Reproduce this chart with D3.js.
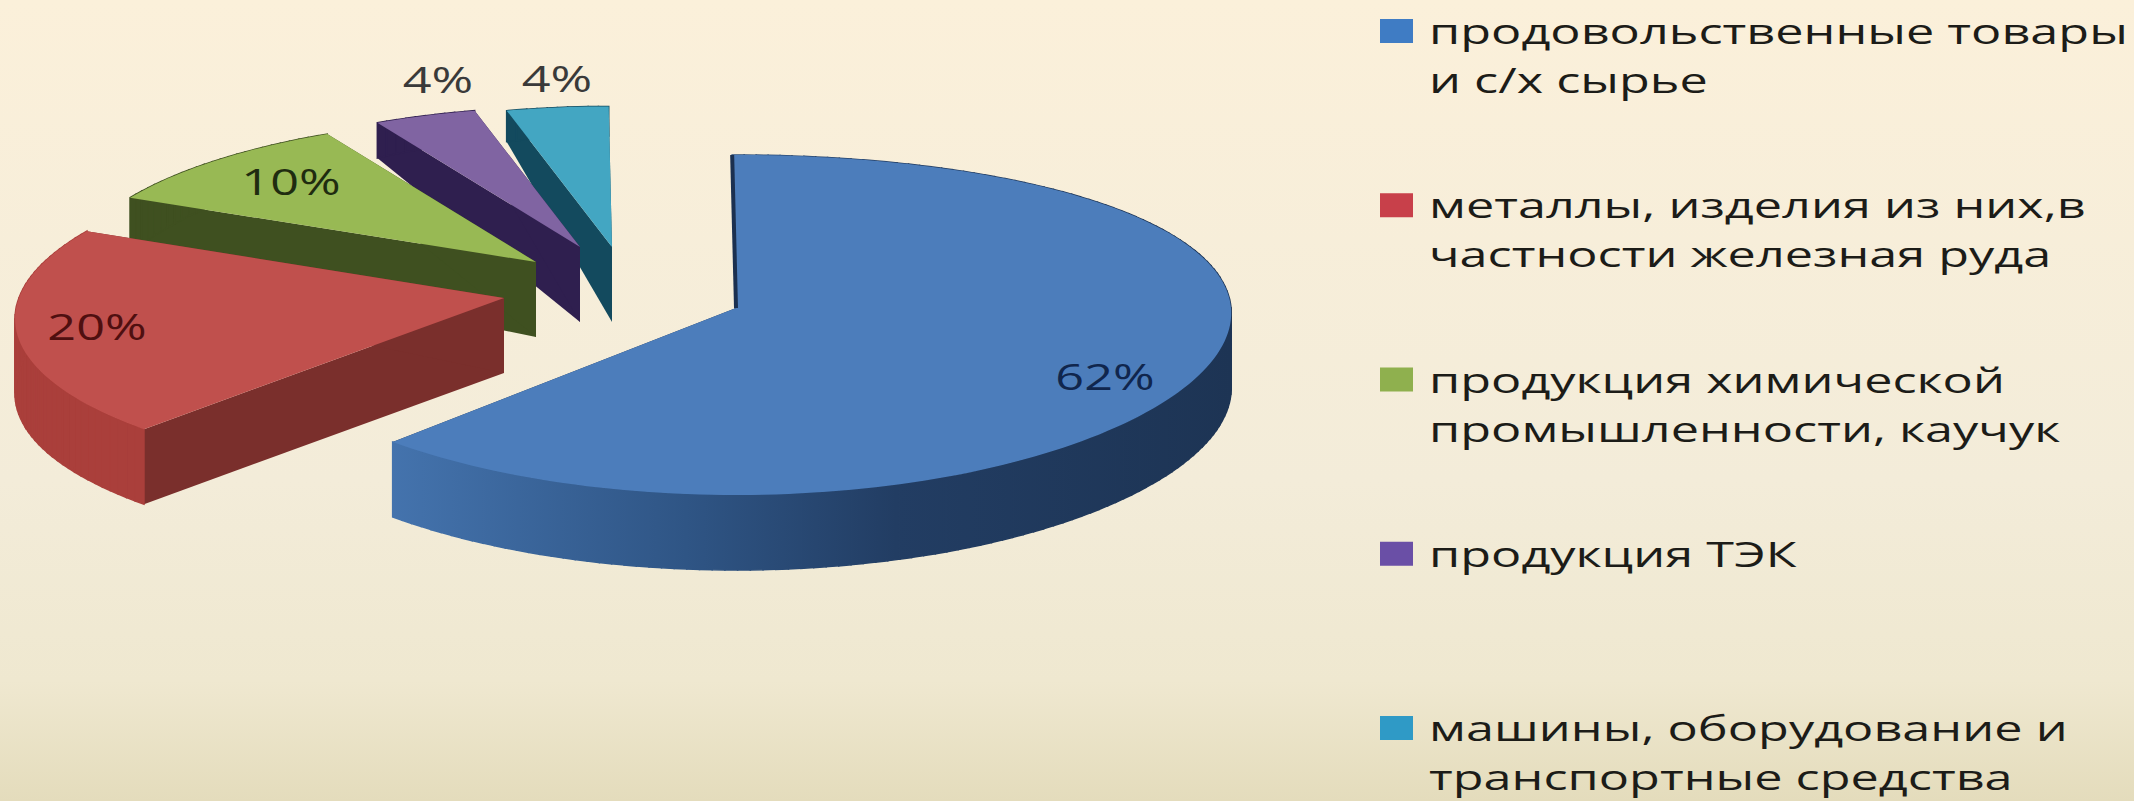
<!DOCTYPE html>
<html>
<head>
<meta charset="utf-8">
<script src="https://cdn.jsdelivr.net/npm/d3@7"></script>
<style>
  html, body { margin: 0; padding: 0; overflow: hidden; }
  text { font-family: "Open Sans", sans-serif; }
</style>
</head>
<body>
<div id="container"></div>
<script>
// Data
const categories = ["food", "metals", "chem", "fuel", "machines"];
const shares = [62, 20, 10, 4, 4];
const shareLabels = ["62%", "20%", "10%", "4%", "4%"];
const legendLines = [
  ["продовольственные товары", "и с/х сырье"],
  ["металлы, изделия из них,в", "частности железная руда"],
  ["продукция химической", "промышленности, каучук"],
  ["продукция ТЭК"],
  ["машины, оборудование и", "транспортные средства"]
];

// Colours
const topColors = ["#4c7dbb", "#c0504d", "#98b954", "#8064a2", "#43a6c2"];
const cutColors = ["#1b3050", "#7a2f2c", "#3f5020", "#2f1f4f", "#134a5e"];
const rimColors = ["url(#blueRim)", "#aa3f3b", "#3f5020", "#2f1f4f", "#134a5e"];
const legendColors = ["#3f7cc4", "#c8404a", "#8fb04e", "#6a4fa6", "#2f9ac6"];
const labelColors = ["#10264d", "#4f0f10", "#1f2c10", "#3a3a3a", "#3a3a3a"];

// Layout
const width = 2134;
const height = 801;
const apexes = [[736, 308], [504, 298], [536, 262], [580, 247], [612, 247]];
const radii = [1, 0.98, 0.94, 0.91, 0.91];
const xTilts = [0.03, 0.13, 0.1, 0.1, 0.1];
const labelAt = [[1105, 390], [97, 340], [291, 195], [438, 93], [557, 92]];
const rx = 495;
const ry = 170;
const tilt = 0.1;
const labelStretch = 1.4;
const legendStretch = 1.44;

const svg = d3
  .select("#container")
  .append("svg")
  .attr("width", width)
  .attr("height", height);

const defs = svg.append("defs");

const bg = defs
  .append("linearGradient")
  .attr("id", "bg")
  .attr("x1", 0)
  .attr("y1", 0)
  .attr("x2", 0)
  .attr("y2", 1);
bg.append("stop").attr("offset", "0%").attr("stop-color", "#fbf0da");
bg.append("stop").attr("offset", "60%").attr("stop-color", "#f3ecd9");
bg.append("stop").attr("offset", "85%").attr("stop-color", "#efe8d0");
bg.append("stop").attr("offset", "100%").attr("stop-color", "#e4dcbc");

const blueRim = defs
  .append("linearGradient")
  .attr("id", "blueRim")
  .attr("gradientUnits", "userSpaceOnUse")
  .attr("x1", 392)
  .attr("y1", 0)
  .attr("x2", 1232)
  .attr("y2", 0);
blueRim.append("stop").attr("offset", "0%").attr("stop-color", "#4473ad");
blueRim.append("stop").attr("offset", "35%").attr("stop-color", "#2f5585");
blueRim.append("stop").attr("offset", "60%").attr("stop-color", "#223d63");
blueRim.append("stop").attr("offset", "100%").attr("stop-color", "#1d3454");

svg
  .append("rect")
  .attr("width", width)
  .attr("height", height)
  .attr("fill", "url(#bg)");

// Perspective: far side shrinks, and the wall gets shorter towards the back
const depth = (y) => 75 + 50 * Math.min(y, 0);

const project = (i, angle, lowered) => {
  const apex = apexes[i];
  const y = -Math.cos(angle) * radii[i];
  const drop = lowered ? depth(y) : 0;
  return [
    apex[0] + Math.sin(angle) * radii[i] * rx * (1 + xTilts[i] * y),
    apex[1] + y * ry * (1 + tilt * y) + drop
  ];
};

const pie = d3
  .pie()
  .sort(null)
  .startAngle(-0.008)
  .endAngle(2 * Math.PI - 0.008);

const arcs = pie(shares);
const outline = d3.line();

const arcPoints = (d, i, lowered) => {
  const n = Math.max(4, Math.round((d.endAngle - d.startAngle) * 40));
  return d3
    .range(n + 1)
    .map((k) =>
      project(i, d.startAngle + ((d.endAngle - d.startAngle) * k) / n, lowered)
    );
};

const pieGroup = svg.append("g");

// Back slices first, the big front one last
d3.range(arcs.length - 1, -1, -1).forEach((i) => {
  const d = arcs[i];
  const apex = apexes[i];
  const g = pieGroup.append("g").attr("class", categories[i]);
  const apexLow = [apex[0], apex[1] + depth(0)];

  [d.startAngle, d.endAngle].forEach((a) => {
    g.append("path")
      .attr(
        "d",
        outline([apex, project(i, a, false), project(i, a, true), apexLow]) + "Z"
      )
      .attr("fill", cutColors[i]);
  });

  // rim as single quads, one path would cancel itself where it folds over
  const upper = arcPoints(d, i, false);
  const lower = arcPoints(d, i, true);
  g.selectAll(".rim")
    .data(d3.range(upper.length - 1))
    .enter()
    .append("path")
    .attr("class", "rim")
    .attr(
      "d",
      (k) => outline([upper[k], upper[k + 1], lower[k + 1], lower[k]]) + "Z"
    )
    .attr("fill", rimColors[i])
    .attr("stroke", rimColors[i])
    .attr("stroke-width", 1.5);

  g.append("path")
    .attr("d", outline([apex].concat(upper)) + "Z")
    .attr("fill", topColors[i]);
});

// Thin dark wall visible at the start of the first slice
pieGroup
  .append("path")
  .attr("d", outline([apexes[0], project(0, arcs[0].startAngle, false)]))
  .attr("stroke", cutColors[0])
  .attr("stroke-width", 4)
  .attr("fill", "none");

// Slice labels
svg
  .append("g")
  .selectAll("text")
  .data(shareLabels)
  .enter()
  .append("text")
  .attr(
    "transform",
    (d, i) =>
      "translate(" + labelAt[i][0] + "," + labelAt[i][1] + ") scale(" + labelStretch + ",1)"
  )
  .attr("text-anchor", "middle")
  .attr("font-size", 36)
  .attr("fill", (d, i) => labelColors[i])
  .text((d) => d);

// Legend
const legendY = d3.scaleLinear().domain([0, 4]).range([44, 741]);

const legend = svg
  .append("g")
  .selectAll("g")
  .data(legendLines)
  .enter()
  .append("g")
  .attr("transform", (d, i) => "translate(1380," + legendY(i) + ")");

legend
  .append("rect")
  .attr("y", -25)
  .attr("width", 33)
  .attr("height", 24)
  .attr("fill", (d, i) => legendColors[i]);

legend
  .selectAll("text")
  .data((d) => d)
  .enter()
  .append("text")
  .attr("transform", (d, j) => "translate(49," + j * 49 + ") scale(" + legendStretch + ",1)")
  .attr("font-size", 35)
  .attr("fill", "#1c1c18")
  .text((d) => d);
</script>
</body>
</html>
